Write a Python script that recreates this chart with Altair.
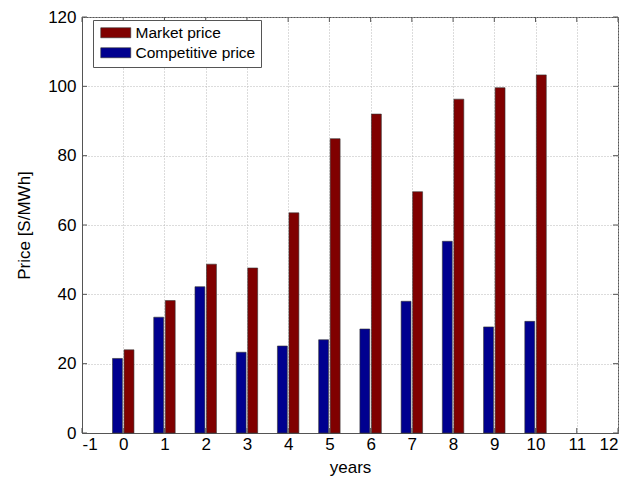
import altair as alt
import pandas as pd

years = [0, 1, 2, 3, 4, 5, 6, 7, 8, 9, 10]
market_price = [24.0, 38.2, 48.7, 47.6, 63.5, 84.9, 92.0, 69.6, 96.3, 99.6, 103.3]
competitive_price = [21.5, 33.4, 42.2, 23.3, 25.1, 26.9, 30.0, 38.0, 55.3, 30.6, 32.2]
series_names = ["Market price", "Competitive price"]
series_colors = ["#800000", "#00008F"]
x_ticks = list(range(-1, 13))
y_ticks = [0, 20, 40, 60, 80, 100, 120]

W, H = 536, 416

rows = []
for i, yr in enumerate(years):
    rows.append({"year": yr, "series": "Competitive price", "price": competitive_price[i], "lo": -0.26, "hi": -0.02})
    rows.append({"year": yr, "series": "Market price", "price": market_price[i], "lo": 0.02, "hi": 0.26})
df = pd.DataFrame(rows)
xt = pd.DataFrame({"t": x_ticks})
yt = pd.DataFrame({"t": y_ticks})

font = "Liberation Sans"
xscale = alt.Scale(domain=[-1, 12], nice=False, zero=False)
yscale = alt.Scale(domain=[0, 120], nice=False)

bars = alt.Chart(df).transform_calculate(
    x0="datum.year + datum.lo", x1="datum.year + datum.hi"
).mark_rect(stroke="#333333", strokeWidth=0.6).encode(
    x=alt.X("x0:Q", title="years", scale=xscale,
            axis=alt.Axis(values=x_ticks, labelExpr="'' + datum.value", grid=True, gridDash=[1, 2],
                          gridColor="#b8b8b8", labelFontSize=17, titleFontSize=17,
                          labelPadding=3, titlePadding=7, tickSize=0,
                          domainColor="#555555", labelColor="#000000", titleColor="#000000",
                          titleFontWeight="normal", labelFont=font, titleFont=font)),
    x2="x1:Q",
    y=alt.Y("price:Q", title="Price [S/MWh]", scale=yscale,
            axis=alt.Axis(values=y_ticks, grid=True, gridDash=[1, 2], gridColor="#b8b8b8",
                          labelFontSize=17, titleFontSize=17, labelPadding=6, titlePadding=14,
                          tickSize=0, domainColor="#555555", labelColor="#000000",
                          titleColor="#000000", titleFontWeight="normal",
                          labelFont=font, titleFont=font)),
    y2=alt.Y2(datum=0),
    color=alt.Color("series:N", scale=alt.Scale(domain=series_names, range=series_colors),
                    legend=alt.Legend(title=None, orient="none", legendX=11, legendY=3,
                                      symbolType="M-1,-1H5V1H-1Z", symbolSize=100,
                                      symbolStrokeColor="#333333", symbolStrokeWidth=0.6,
                                      labelFontSize=15.5, labelFont=font, labelColor="#000000",
                                      labelOffset=22, rowPadding=3, padding=5,
                                      strokeColor="#555555", fillColor="#ffffff")),
)

tick_color = "#555555"
xb = alt.Chart(xt).mark_rule(color=tick_color, strokeWidth=1).encode(
    x=alt.X("t:Q", scale=xscale), y=alt.value(H), y2=alt.value(H - 5))
xtop = alt.Chart(xt).mark_rule(color=tick_color, strokeWidth=1).encode(
    x=alt.X("t:Q", scale=xscale), y=alt.value(0), y2=alt.value(5))
yl = alt.Chart(yt).mark_rule(color=tick_color, strokeWidth=1).encode(
    y=alt.Y("t:Q", scale=yscale), x=alt.value(0), x2=alt.value(5))
yr_ = alt.Chart(yt).mark_rule(color=tick_color, strokeWidth=1).encode(
    y=alt.Y("t:Q", scale=yscale), x=alt.value(W), x2=alt.value(W - 5))

chart = alt.layer(bars, xb, xtop, yl, yr_).properties(
    width=W, height=H,
    autosize=alt.AutoSizeParams(type="none"),
    padding={"left": 74, "top": 9, "right": 10, "bottom": 44},
).configure_view(stroke="#555555", strokeWidth=1)

chart.save("out.html", embed_options={"renderer": "svg", "actions": False})
